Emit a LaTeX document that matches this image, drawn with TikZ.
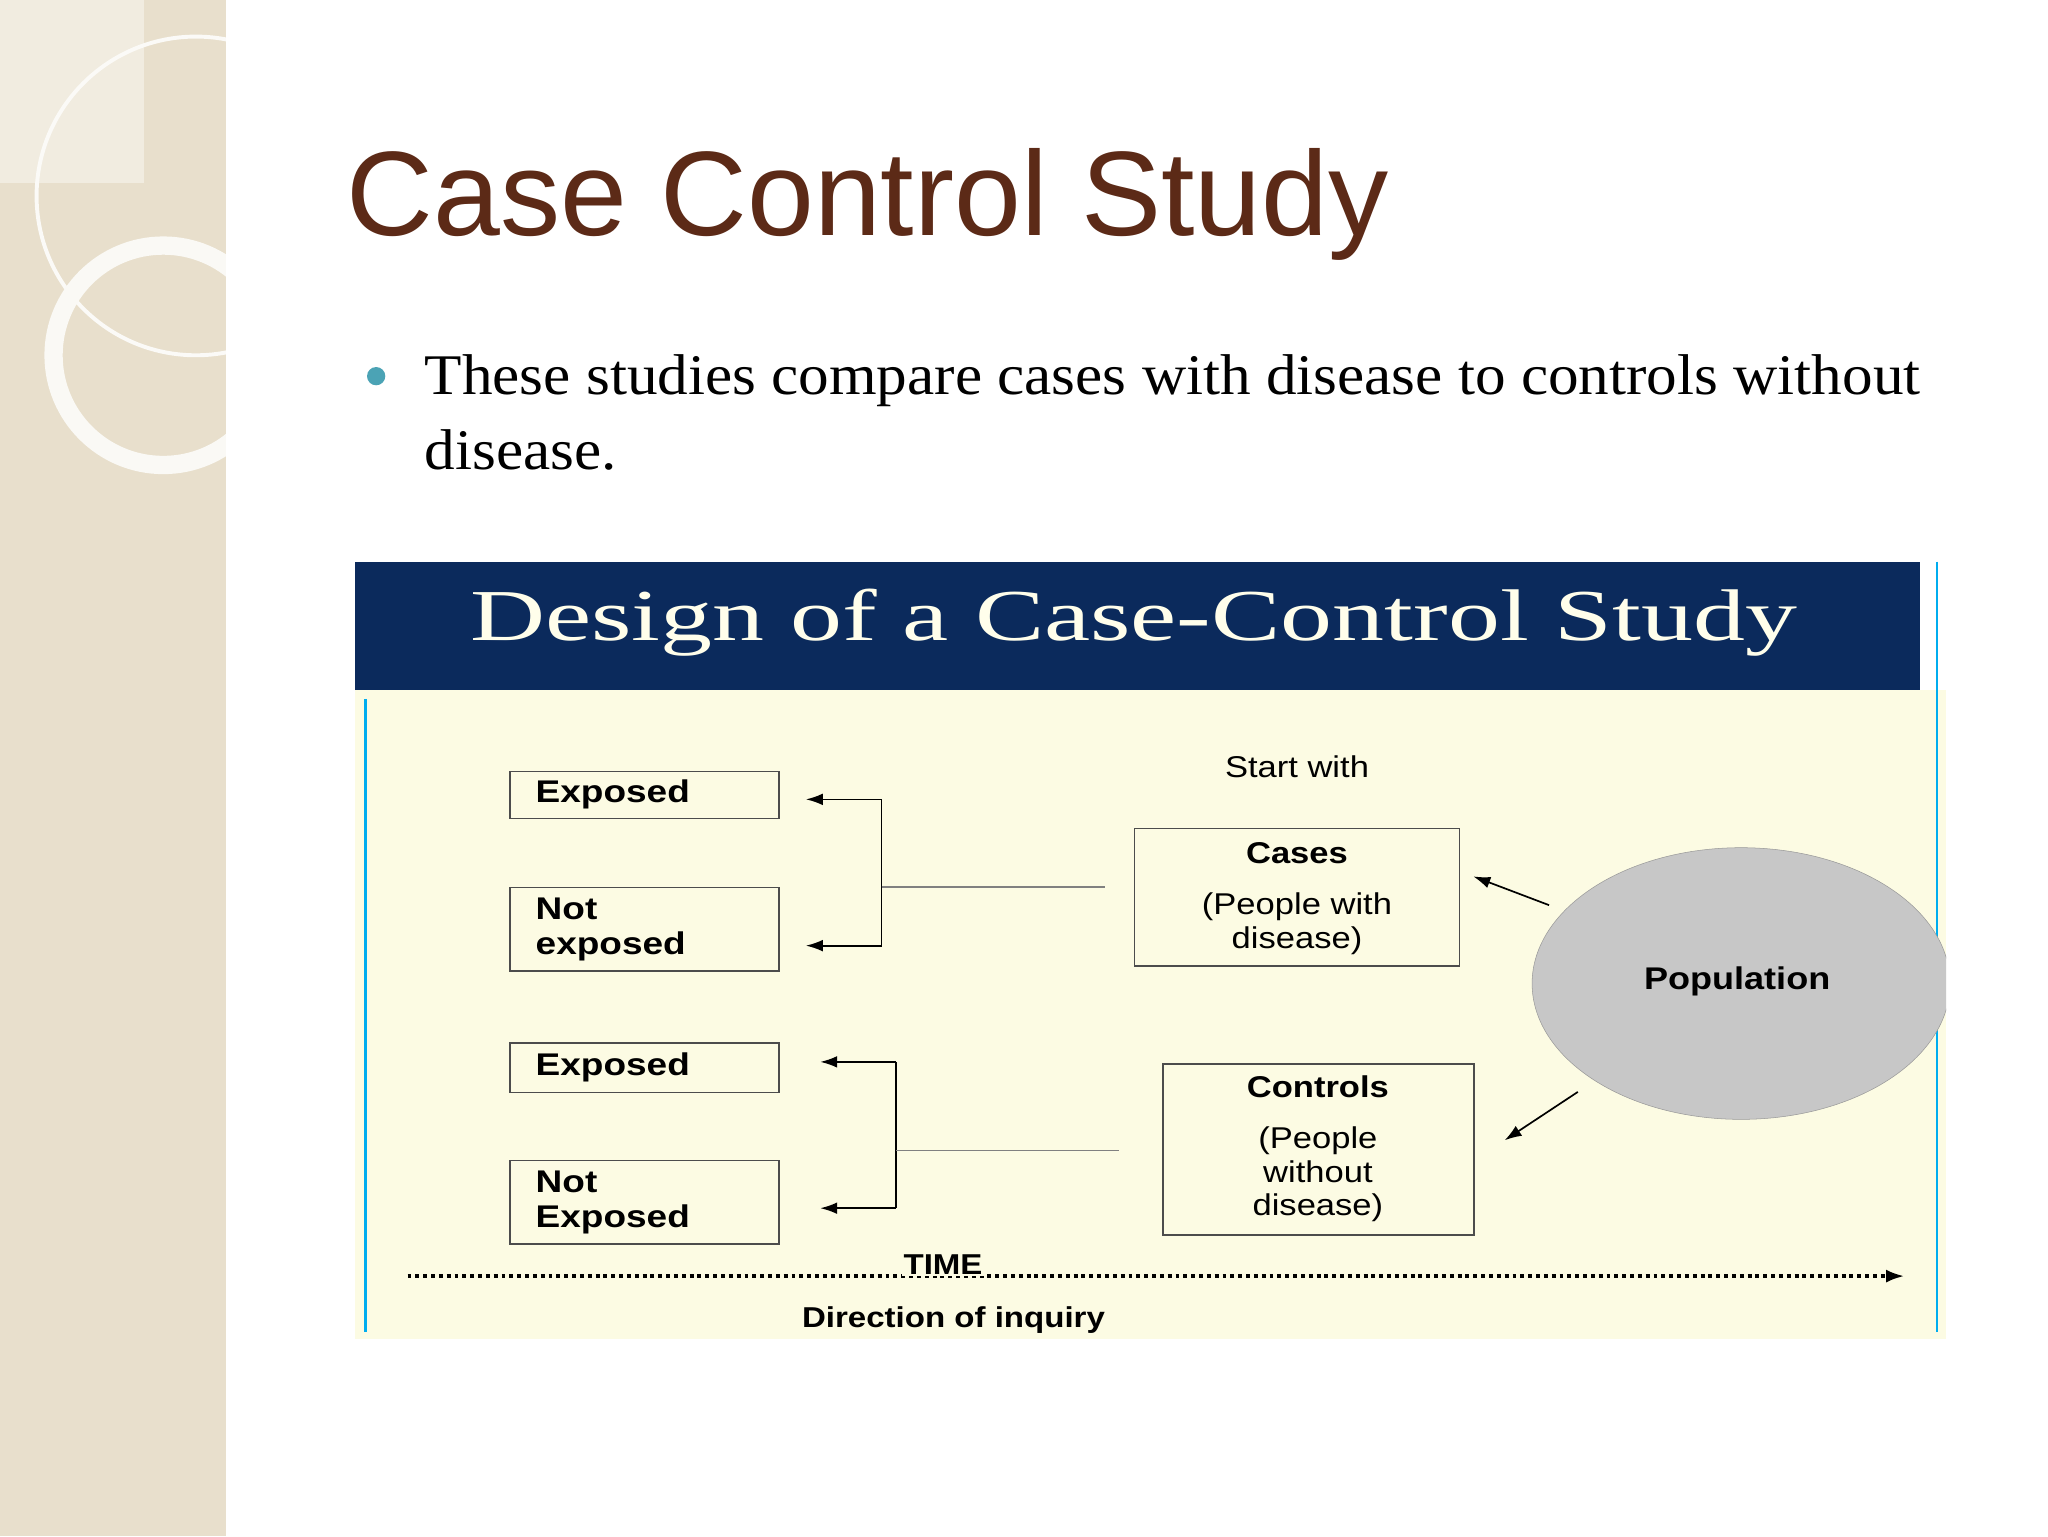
\documentclass[tikz,border=0pt]{standalone}
\usepackage{fontspec}
\setmainfont{Liberation Serif}
\setsansfont{Liberation Sans}
\usetikzlibrary{arrows.meta}
\definecolor{side}{HTML}{E8DFCC}
\definecolor{brownt}{HTML}{5C2A17}
\definecolor{navy}{HTML}{0B2A5C}
\definecolor{cream}{HTML}{FCFBE3}
\definecolor{teal}{HTML}{4BA3B5}
\tikzset{
 lbox/.style={draw=black!70,line width=1pt,minimum width=206pt,anchor=north west,inner sep=0pt},
 lbl/.style={font=\sffamily\bfseries\fontsize{24}{27}\selectfont,align=left,anchor=west,xscale=1.18},
 cbox/.style={draw=black!70,line width=1pt,anchor=north west,inner sep=0pt},
 ctext/.style={font=\sffamily\fontsize{23}{26}\selectfont,align=center,xscale=1.15},
 arr/.style={-{Latex[length=13pt,width=9pt]},line width=1.3pt},
}
\begin{document}
\begin{tikzpicture}[x=1pt,y=-1pt]
\useasboundingbox (0,0) rectangle (1568,1176);
\fill[white] (0,0) rectangle (1568,1176);
% sidebar
\fill[side] (0,0) rectangle (173,1176);
\fill[side!60!white] (0,0) rectangle (110,140);
\begin{scope}
\clip (0,0) rectangle (173,1176);
\draw[white!85!side,line width=3pt] (150,150) circle (122);
\draw[white!80!side,line width=14pt] (125,272) circle (84);
\end{scope}
% title
\node[anchor=base west,text=brownt,font=\sffamily\fontsize{92}{100}\selectfont] (title) at (262,180) {Case Control Study};
\fill[teal] (288,288) circle (7);
\node[anchor=north west,align=left,font=\fontsize{44}{58}\selectfont,inner sep=0pt,xscale=1.065] (bul) at (325,271) {These studies compare cases with disease to controls without\\disease.};
% diagram
\fill[cream] (272,528) rectangle (1490,1025);
\fill[navy] (272,430) rectangle (1470,528);
\node[text=white!92!yellow,font=\fontsize{56}{60}\selectfont,xscale=1.42] (dh) at (868,477) {Design of a Case-Control Study};
\draw[cyan,line width=2pt] (280,535) -- (280,1020);
\draw[cyan,line width=2pt] (1483,430) -- (1483,1020);
% left boxes
\node[lbox,minimum height=36pt] (e1) at (390,590) {};
\node[lbl] at ([xshift=16pt]e1.west) {Exposed};
\node[lbox,minimum height=64pt] (n1) at (390,679) {};
\node[lbl] at ([xshift=16pt]n1.west) {Not\\exposed};
\node[lbox,minimum height=38pt] (e2) at (390,798) {};
\node[lbl] at ([xshift=16pt]e2.west) {Exposed};
\node[lbox,minimum height=64pt] (n2) at (390,888) {};
\node[lbl] at ([xshift=16pt]n2.west) {Not\\Exposed};
% brackets
\coordinate (b1t) at (675,612); \coordinate (b1b) at (675,724);
\coordinate (a1t) at (617,612); \coordinate (a1b) at (617,724);
\draw[arr] (b1t) -- (a1t);
\draw[arr] (b1b) -- (a1b);
\draw[line width=1.3pt] (b1t) -- (b1b);
\coordinate (b2t) at (686,813); \coordinate (b2b) at (686,925);
\coordinate (a2t) at (628,813); \coordinate (a2b) at (628,925);
\draw[arr] (b2t) -- (a2t);
\draw[arr] (b2b) -- (a2b);
\draw[line width=1.3pt] (b2t) -- (b2b);
\coordinate (m1) at (675,679); \coordinate (e1end) at (846,679);
\coordinate (m2) at (686,881); \coordinate (e2end) at (857,881);
\draw[gray,line width=1pt] (m1) -- (e1end);
\draw[gray,line width=1pt] (m2) -- (e2end);
% right boxes
\node[cbox,minimum width=249pt,minimum height=105pt] (cases) at (868,634) {};
\node[ctext,font=\sffamily\bfseries\fontsize{23}{26}\selectfont] at (993,653) {Cases};
\node[ctext] at (993,707) {(People with\\disease)};
\node[ctext] (sw) at (993,587) {Start with};
\node[cbox,minimum width=238pt,minimum height=131pt] (ctrl) at (890,814) {};
\node[ctext,font=\sffamily\bfseries\fontsize{23}{26}\selectfont] at (1009,832) {Controls};
\node[ctext] at (1009,899) {(People\\without\\disease)};
% population
\begin{scope}
\clip (272,528) rectangle (1490,1025);
\fill[black!22,draw=black!40] (1333,753) ellipse (160 and 104);
\end{scope}
\node[ctext,font=\sffamily\bfseries\fontsize{24}{27}\selectfont] (pop) at (1330,751) {Population};
\coordinate (p1) at (1186,693); \coordinate (p2) at (1208,836);
\draw[arr] (p1) -- (1128,671);
\draw[arr] (p2) -- (1152,873);
% time
\coordinate (t1) at (312,977); \coordinate (t2) at (1458,977);
\draw[line width=2.5pt,dash pattern=on 3pt off 3pt,-{Latex[length=14pt,width=10pt]}] (t1) -- (t2);
\node[font=\sffamily\bfseries\fontsize{22}{24}\selectfont,fill=cream,inner sep=1pt,xscale=1.15] (time) at (722,968) {TIME};
\node[font=\sffamily\bfseries\fontsize{22}{24}\selectfont,xscale=1.15] (dir) at (730,1011) {Direction of inquiry};
\end{tikzpicture}
\end{document}
